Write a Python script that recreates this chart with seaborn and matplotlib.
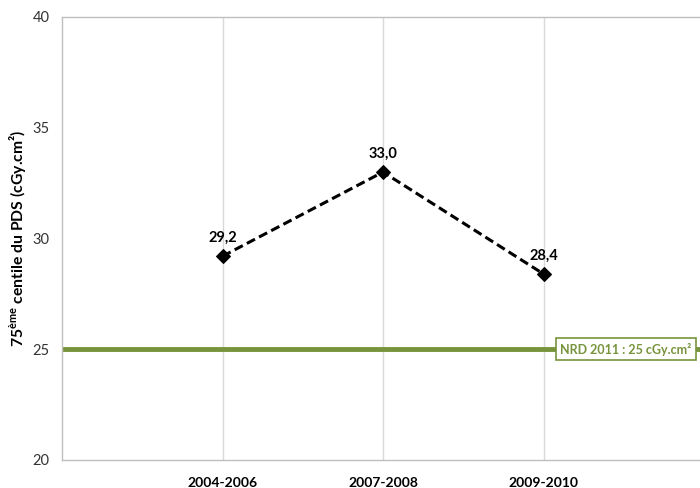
import matplotlib
matplotlib.use("Agg")
import matplotlib.pyplot as plt
import seaborn as sns
import pandas as pd

categories = ["2004-2006", "2007-2008", "2009-2010"]
values = [29.2, 33.0, 28.4]
value_labels = ["29,2", "33,0", "28,4"]
nrd_value = 25
nrd_label = "NRD 2011 : 25 cGy.cm²"
y_ticks = [20, 25, 30, 35, 40]

sns.set_theme(style="white")
plt.rcParams['font.family'] = ['Lato', 'DejaVu Sans']
plt.rcParams['mathtext.fontset'] = 'custom'
plt.rcParams['mathtext.rm'] = 'Lato'
plt.rcParams['mathtext.bf'] = 'Lato:bold'

df = pd.DataFrame({"pos": [1, 2, 3], "val": values})

fig = plt.figure(figsize=(7, 4.88), dpi=100)
ax = fig.add_axes([62/700, 28/488, 642/700, 443/488])

green = "#77933C"
ax.axhline(nrd_value, color=green, lw=3.5, zorder=2)

sns.lineplot(data=df, x="pos", y="val", ax=ax, color="black", lw=2.2,
             linestyle=(0, (3, 1.5)), marker="D", markersize=7,
             markeredgecolor="black", zorder=3)

for x, v, lab in zip(df["pos"], values, value_labels):
    ax.annotate(lab, (x, v), xytext=(0, 8), textcoords="offset points",
                ha="center", va="bottom", fontsize=10.5, fontweight="bold",
                color="black")

ax.text(3.105, nrd_value, nrd_label, ha="left", va="center", fontsize=9,
        fontweight="bold", color=green, zorder=4,
        bbox=dict(boxstyle="square,pad=0.35", fc="white", ec=green, lw=1.2))

ax.set_xlim(0, 4)
ax.set_ylim(20, 40)
ax.set_yticks(y_ticks)
ax.set_xticks([1, 2, 3])
ax.set_xticklabels(categories, fontweight="bold", fontsize=10)
ax.tick_params(axis="y", labelsize=10.5, colors="#333333", length=4,
               direction="out", width=0.8, color="#BFBFBF", pad=5)
ax.tick_params(axis="x", length=0, pad=12)
for lbl in ax.get_xticklabels():
    lbl.set_color("black")

ax.grid(axis="x", color="#D9D9D9", lw=1)
ax.grid(axis="y", visible=False)
for s in ["left", "bottom", "top"]:
    ax.spines[s].set_color("#BFBFBF")
    ax.spines[s].set_linewidth(1)
ax.spines["right"].set_visible(False)

ax.set_xlabel("")
ax.set_ylabel(r"$\mathbf{75^{ème}}$ centile du PDS (cGy.cm²)",
              fontsize=11.3, fontweight="bold", color="black", labelpad=3)

fig.savefig("out.png", dpi=100)
